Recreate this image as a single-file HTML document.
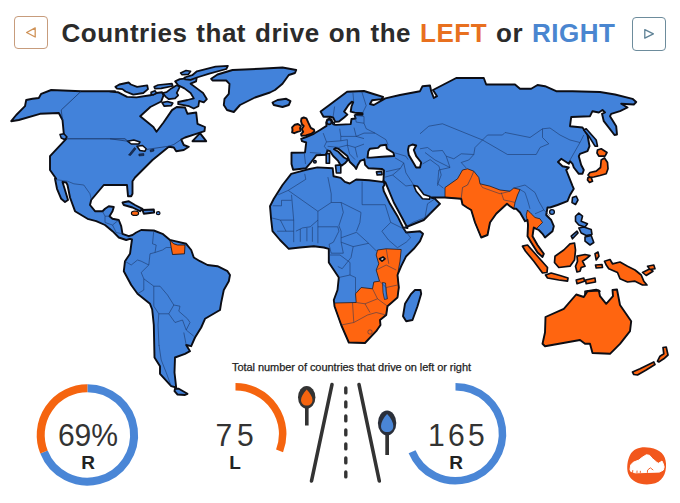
<!DOCTYPE html>
<html><head><meta charset="utf-8">
<style>
html,body{margin:0;padding:0;background:#fff;}
body{width:680px;height:503px;position:relative;overflow:hidden;font-family:"Liberation Sans",sans-serif;}
.btn{position:absolute;width:34px;height:33.5px;border-radius:4px;box-sizing:border-box;}
#bl{left:14.3px;top:15.6px;border:1.4px solid #c79c7c;}
#br{left:632px;top:17px;border:1.4px solid #6d8c9c;}
#title{position:absolute;left:61.5px;top:14.8px;font-weight:bold;font-size:26px;line-height:36px;color:#2b2b2b;white-space:nowrap;letter-spacing:0.5px;word-spacing:1.3px;}
#title .l{color:#e8701f;} #title .r{color:#4a86d0;}
#sub{position:absolute;left:232px;top:360px;font-size:11px;line-height:14px;color:#222;white-space:nowrap;letter-spacing:-0.06px;-webkit-text-stroke:0.25px #222;}
svg{position:absolute;left:0;top:0;}
.num{position:absolute;font-size:32px;color:#333;line-height:34px;text-align:center;transform:scaleX(0.94);transform-origin:50% 50%;}
.lab{position:absolute;font-size:19px;font-weight:bold;color:#222;line-height:20px;text-align:center;}
</style></head><body>
<div class="btn" id="bl"></div><div class="btn" id="br"></div>
<div id="title">Countries that drive on the <span class="l">LEFT</span> or <span class="r">RIGHT</span></div>
<div id="sub">Total number of countries that drive on left or right</div>
<svg id="map" width="680" height="503" viewBox="0 0 680 503">
<!--MAPSTART-->
<path d="M11.2,121.2 L16.2,115.0 L25.0,106.2 L26.2,100.0 L32.5,98.8 L38.8,98.0 L41.2,93.8 L51.2,90.0 L81.2,91.2 L115.0,91.2 L110.0,91.5 L117.8,92.2 L127.1,96.9 L136.4,97.4 L150.3,95.3 L156.5,93.0 L162.0,92.2 L163.5,95.3 L161.2,101.5 L150.3,107.0 L140.2,116.3 L153.4,127.1 L156.5,131.8 L163.5,122.5 L172.0,110.1 L176.7,107.0 L185.0,107.5 L187.5,113.8 L196.2,112.5 L197.5,123.8 L205.0,127.0 L204.5,131.2 L196.2,133.8 L185.0,137.5 L181.2,139.5 L183.8,145.0 L188.8,146.8 L183.8,150.0 L176.2,151.2 L173.8,147.5 L168.8,146.8 L152.5,160.0 L135.0,177.5 L132.5,181.2 L132.5,193.8 L131.2,196.2 L128.0,196.2 L127.0,185.0 L103.8,185.0 L91.2,200.0 L90.0,205.0 L95.0,211.2 L102.5,211.2 L105.0,208.8 L108.8,206.2 L113.8,207.0 L112.5,211.2 L109.5,216.2 L112.5,218.8 L118.8,220.0 L121.2,226.2 L122.5,233.8 L128.8,236.2 L132.5,235.0 L136.2,232.5 L141.2,230.0 L153.8,230.5 L162.5,233.8 L170.0,240.0 L175.0,241.2 L186.2,243.8 L191.2,250.0 L193.8,257.5 L200.0,261.2 L207.5,265.0 L217.5,266.2 L227.5,271.2 L230.0,275.0 L228.8,281.2 L223.8,290.0 L221.2,302.5 L220.0,310.0 L205.0,318.8 L201.2,327.5 L195.0,337.5 L191.2,346.2 L186.2,345.0 L190.0,351.2 L185.0,353.8 L175.0,357.5 L174.5,372.5 L176.2,387.5 L171.2,386.2 L160.0,373.8 L160.0,366.2 L154.5,357.5 L153.8,325.0 L152.2,309.5 L150.0,303.8 L137.5,293.8 L131.2,285.0 L123.8,271.2 L125.0,261.2 L130.0,253.8 L131.2,245.0 L132.0,239.5 L130.0,238.8 L126.2,240.0 L118.8,237.5 L112.5,231.2 L105.0,225.0 L96.2,221.2 L87.5,218.8 L75.0,211.2 L70.0,197.5 L67.5,185.0 L66.2,182.5 L62.5,182.0 L65.0,190.0 L68.0,200.0 L65.0,202.0 L61.2,198.8 L57.0,188.8 L55.0,178.8 L56.2,178.8 L50.0,170.0 L50.0,156.2 L66.2,138.8 L63.8,133.8 L62.5,120.0 L58.8,113.0 L40.0,113.8 L18.8,120.0Z" fill="#4282da" stroke="#0c0d14" stroke-width="1.9" stroke-linejoin="round"/>
<path d="M175.0,388.8 L178.8,388.8 L187.5,393.8 L185.0,395.0 L177.5,394.5 L174.5,391.2Z" fill="#4282da" stroke="#0c0d14" stroke-width="1.9" stroke-linejoin="round"/>
<path d="M60.0,134.5 L63.8,133.8 L67.0,137.0 L64.5,139.5 L61.2,138.0Z" fill="#4282da" stroke="#0c0d14" stroke-width="1.5" stroke-linejoin="round"/>
<path d="M127.5,141.2 L133.8,140.0 L140.0,142.0 L138.8,144.0 L131.2,144.0Z" fill="#fff" stroke="#0c0d14" stroke-width="1.5" stroke-linejoin="round"/>
<path d="M137.0,146.2 L142.5,145.5 L146.2,148.8 L145.0,151.2 L140.0,150.5Z" fill="#fff" stroke="#0c0d14" stroke-width="1.5" stroke-linejoin="round"/>
<path d="M134.5,147.5 L136.0,148.8 L130.5,155.5 L128.5,155.0Z" fill="#16305e" stroke="#0c0d14" stroke-width="0.5" stroke-linejoin="round"/>
<path d="M138.8,154.0 L143.8,153.5 L144.0,155.5 L139.0,156.0Z" fill="#16305e" stroke="#0c0d14" stroke-width="0.5" stroke-linejoin="round"/>
<path d="M150.0,150.0 L153.8,149.0 L154.0,151.0 L150.5,152.0Z" fill="#16305e" stroke="#0c0d14" stroke-width="0.5" stroke-linejoin="round"/>
<path d="M192.5,141.2 L200.0,133.2 L206.2,141.2Z" fill="#4282da" stroke="#0c0d14" stroke-width="1.9" stroke-linejoin="round"/>
<path d="M115.4,86.8 L119.3,84.5 L128.6,82.5 L130.9,84.5 L137.1,86.8 L147.2,85.3 L148.0,89.1 L143.3,93.0 L133.3,94.6 L125.5,91.5 L122.4,89.1 L117.0,88.7Z" fill="#4282da" stroke="#0c0d14" stroke-width="1.8" stroke-linejoin="round"/>
<path d="M151.1,92.2 L155.0,90.7 L156.5,93.0 L153.4,94.9 L151.1,94.3Z" fill="#4282da" stroke="#0c0d14" stroke-width="1.6" stroke-linejoin="round"/>
<path d="M154.2,86.8 L158.1,85.0 L172.0,83.7 L172.8,86.0 L161.2,88.4 L155.0,88.7Z" fill="#4282da" stroke="#0c0d14" stroke-width="1.7" stroke-linejoin="round"/>
<path d="M162.7,93.0 L166.6,92.2 L171.3,88.4 L176.7,85.3 L179.8,86.8 L176.7,93.0 L178.2,95.3 L175.1,98.4 L168.9,99.2 L165.8,96.9Z" fill="#4282da" stroke="#0c0d14" stroke-width="1.7" stroke-linejoin="round"/>
<path d="M162.0,102.6 L167.4,101.5 L172.8,103.1 L171.3,105.7 L164.3,106.2Z" fill="#4282da" stroke="#0c0d14" stroke-width="1.7" stroke-linejoin="round"/>
<path d="M175.1,81.4 L179.8,79.1 L187.5,78.3 L196.9,76.7 L196.1,81.4 L190.6,83.7 L196.9,88.4 L203.1,93.0 L206.9,99.2 L203.8,102.3 L199.2,100.8 L198.4,106.2 L193.8,108.5 L189.1,106.2 L178.2,104.2 L178.2,102.0 L187.5,100.0 L193.8,98.4 L190.6,93.0 L184.4,88.4 L178.2,85.3Z" fill="#4282da" stroke="#0c0d14" stroke-width="1.8" stroke-linejoin="round"/>
<path d="M180.6,72.9 L186.0,70.5 L190.6,71.3 L188.3,74.4 L182.1,74.7Z" fill="#4282da" stroke="#0c0d14" stroke-width="1.6" stroke-linejoin="round"/>
<path d="M184.4,77.5 L192.2,75.2 L196.9,71.3 L215.5,66.7 L227.9,65.9 L226.3,69.0 L209.3,73.6 L196.9,77.5 L190.6,79.8 L185.2,79.4Z" fill="#4282da" stroke="#0c0d14" stroke-width="1.8" stroke-linejoin="round"/>
<path d="M211.2,78.8 L217.5,74.5 L232.5,70.0 L260.0,68.8 L282.5,67.5 L296.2,70.0 L295.0,73.0 L288.8,75.0 L282.5,83.8 L275.0,90.0 L270.0,92.5 L255.0,97.5 L240.0,105.0 L233.8,112.0 L227.0,110.0 L223.8,105.0 L224.5,98.8 L228.8,93.8 L229.5,83.8 L226.2,80.5 L212.5,80.5Z" fill="#4282da" stroke="#0c0d14" stroke-width="1.9" stroke-linejoin="round"/>
<path d="M272.5,102.5 L277.5,100.0 L286.2,98.8 L290.5,101.2 L288.8,105.0 L282.5,107.0 L273.8,105.0Z" fill="#4282da" stroke="#0c0d14" stroke-width="1.9" stroke-linejoin="round"/>
<path d="M122.5,202.5 L128.8,201.2 L135.0,205.0 L142.5,208.8 L140.0,211.2 L132.5,207.5 L123.8,205.0Z" fill="#4282da" stroke="#0c0d14" stroke-width="1.9" stroke-linejoin="round"/>
<path d="M142.5,210.0 L153.8,209.5 L154.2,212.5 L143.8,213.8Z" fill="#4282da" stroke="#0c0d14" stroke-width="1.9" stroke-linejoin="round"/>
<ellipse cx="135.0" cy="213.2" rx="3.6" ry="2.2" fill="#ff6510" stroke="#0c0d14" stroke-width="1.2"/>
<ellipse cx="158.2" cy="213.2" rx="1.8" ry="1.5" fill="#4282da" stroke="#0c0d14" stroke-width="1.2"/>
<path d="M170.0,240.5 L173.8,243.8 L177.5,245.0 L185.0,245.0 L184.5,253.8 L172.5,254.5 L171.2,247.5Z" fill="#ff6510" stroke="#0c0d14" stroke-width="0.8" stroke-linejoin="round"/>
<path d="M320.6,111.6 L329.4,105.0 L347.1,91.8 L364.0,91.0 L373.5,94.0 L383.1,96.9 L381.6,99.1 L372.1,100.3 L370.0,104.0 L373.8,105.0 L385.3,98.4 L400.0,95.0 L420.0,91.2 L422.5,86.2 L430.0,85.5 L431.2,91.2 L433.8,98.0 L437.0,96.2 L433.0,90.0 L456.2,78.0 L483.8,78.0 L486.2,84.5 L515.0,84.5 L520.0,88.8 L531.2,88.8 L537.5,85.0 L545.0,86.2 L556.2,91.2 L572.5,91.2 L600.0,92.0 L615.0,94.5 L632.5,98.8 L636.2,102.0 L633.8,104.5 L621.2,103.8 L627.5,107.5 L620.0,111.2 L611.2,113.8 L610.0,116.2 L616.2,126.2 L617.0,134.5 L614.5,135.0 L603.8,121.2 L602.0,113.8 L605.0,112.5 L602.5,110.0 L598.8,112.5 L592.5,111.2 L590.0,116.2 L571.2,117.0 L570.0,126.2 L582.5,127.5 L587.5,135.0 L589.5,146.2 L587.5,151.2 L580.0,153.8 L578.8,156.2 L581.2,165.0 L583.8,170.0 L582.5,173.8 L578.8,173.8 L573.8,167.5 L572.5,163.8 L570.0,161.2 L568.8,163.8 L565.0,161.2 L561.2,158.8 L558.0,162.0 L562.5,166.2 L568.8,167.5 L566.2,170.0 L572.5,185.8 L573.8,188.8 L570.0,195.0 L567.5,201.2 L557.5,205.0 L550.0,207.5 L547.5,207.5 L546.2,215.0 L551.2,220.0 L553.8,226.2 L552.5,231.2 L545.0,237.5 L542.5,233.8 L538.8,230.0 L536.2,228.8 L533.8,227.5 L532.5,236.2 L537.5,245.0 L543.8,253.8 L542.5,257.0 L537.5,252.5 L531.2,242.5 L527.5,236.2 L528.0,225.0 L527.5,220.0 L525.0,221.2 L520.0,212.5 L516.2,208.8 L513.8,208.8 L510.0,206.2 L507.0,203.8 L496.2,213.8 L490.0,222.5 L487.5,235.0 L481.2,237.5 L475.0,222.5 L471.2,210.0 L467.0,207.5 L462.5,204.5 L461.2,198.8 L445.0,197.5 L435.0,197.5 L431.2,197.5 L435.0,198.8 L440.0,203.8 L431.2,212.5 L423.8,220.0 L405.0,227.5 L407.5,228.0 L401.2,216.2 L393.8,202.5 L387.0,186.2 L385.5,182.5 L383.8,181.2 L383.4,181.9 L384.0,170.6 L382.1,169.0 L368.3,168.2 L365.1,164.9 L364.3,159.3 L360.2,160.9 L357.8,164.9 L356.2,169.0 L354.6,166.5 L349.7,161.7 L347.3,156.0 L338.4,148.8 L335.5,147.9 L334.0,149.2 L338.4,151.8 L344.0,157.5 L348.1,159.6 L344.9,163.3 L341.6,165.6 L340.5,164.9 L338.1,160.9 L333.2,156.0 L330.0,151.2 L327.4,150.4 L326.2,154.7 L316.5,155.2 L310.9,162.5 L306.0,168.2 L293.1,169.8 L291.5,164.1 L291.5,152.8 L305.0,152.5 L306.2,142.5 L302.0,141.2 L301.2,138.8 L306.2,137.0 L313.8,133.8 L320.0,130.0 L326.5,125.9 L326.2,122.6 L327.2,119.7 L329.4,118.7 L331.6,119.7 L332.4,122.6 L334.1,124.6 L336.0,124.9 L350.7,124.1 L351.5,119.0 L355.6,118.5 L354.7,115.3 L355.9,114.7 L362.5,114.7 L362.5,113.2 L354.7,112.6 L350.7,111.6 L351.5,106.5 L353.2,102.1 L351.8,101.8 L348.5,105.0 L344.1,111.6 L347.4,114.6 L344.1,117.5 L339.0,121.5 L335.3,121.9 L333.1,117.5 L330.1,116.8 L323.5,116.8Z" fill="#4282da" stroke="#0c0d14" stroke-width="0" stroke-linejoin="round"/>
<path d="M291.2,173.8 L306.0,169.8 L317.4,167.4 L332.7,168.2 L333.5,176.2 L340.8,177.9 L344.9,181.9 L349.7,183.5 L356.2,179.5 L369.1,180.3 L382.1,181.9 L383.8,181.2 L384.5,185.0 L383.0,187.0 L383.8,191.2 L390.0,203.8 L397.5,216.2 L403.8,228.8 L406.2,232.5 L420.0,231.2 L423.0,233.8 L420.0,241.2 L413.8,248.8 L406.2,256.2 L401.2,266.2 L397.5,275.0 L398.8,287.5 L397.5,297.5 L387.5,306.2 L386.2,315.0 L380.0,320.0 L380.5,325.0 L376.2,331.2 L365.0,343.0 L348.8,342.5 L341.2,325.0 L334.5,306.2 L333.8,300.0 L337.5,290.0 L338.8,277.5 L333.8,270.0 L328.8,262.5 L328.8,248.8 L323.8,247.5 L313.8,246.2 L300.0,247.5 L288.8,248.8 L280.0,240.0 L272.5,231.2 L271.2,220.0 L270.0,206.2 L273.8,198.8 L282.5,185.0Z" fill="#4282da" stroke="#0c0d14" stroke-width="0" stroke-linejoin="round"/>
<path d="M445.0,187.5 L457.5,178.8 L462.5,170.0 L467.5,168.8 L473.8,171.2 L478.8,177.5 L480.0,183.8 L490.0,186.2 L500.0,190.0 L510.0,191.2 L513.8,188.0 L520.0,189.5 L517.5,195.0 L515.0,202.5 L513.8,208.8 L510.0,206.2 L507.0,203.8 L496.2,213.8 L490.0,222.5 L487.5,235.0 L481.2,237.5 L475.0,222.5 L471.2,210.0 L467.0,207.5 L462.5,204.5 L461.2,198.8 L445.0,197.5Z" fill="#ff6510" stroke="#0c0d14" stroke-width="0.7" stroke-linejoin="round"/>
<path d="M527.5,210.0 L531.2,213.8 L535.0,217.5 L540.0,218.8 L542.5,222.5 L536.2,228.8 L533.8,227.5 L532.5,236.2 L537.5,245.0 L543.8,253.8 L542.5,257.0 L537.5,252.5 L531.2,242.5 L527.5,236.2 L528.0,225.0 L526.2,215.0Z" fill="#ff6510" stroke="#0c0d14" stroke-width="0.7" stroke-linejoin="round"/>
<path d="M334.5,303.0 L356.2,302.5 L355.5,293.8 L361.2,287.5 L372.5,288.8 L373.8,282.0 L379.5,281.2 L376.2,270.0 L378.8,263.8 L376.2,255.0 L377.5,250.0 L386.2,248.8 L401.2,249.5 L400.0,261.2 L397.5,275.0 L398.8,287.5 L397.5,297.5 L387.5,306.2 L386.2,315.0 L380.0,320.0 L380.5,325.0 L376.2,331.2 L365.0,343.0 L348.8,342.5 L341.2,325.0 L334.5,306.2Z" fill="#ff6510" stroke="#0c0d14" stroke-width="0.7" stroke-linejoin="round"/>
<path d="M382.5,282.5 L385.5,283.0 L386.2,291.2 L387.5,298.8 L384.5,299.5 L383.0,292.5Z" fill="#4282da" stroke="#0c0d14" stroke-width="0.6" stroke-linejoin="round"/>
<path d="M379.5,258.8 L383.0,257.0 L385.0,258.8 L382.0,261.2Z" fill="#fff" stroke="#0c0d14" stroke-width="1.7" stroke-linejoin="round"/>
<path d="M320.6,111.6 L329.4,105.0 L347.1,91.8 L364.0,91.0 L373.5,94.0 L383.1,96.9 L381.6,99.1 L372.1,100.3 L370.0,104.0 L373.8,105.0 L385.3,98.4 L400.0,95.0 L420.0,91.2 L422.5,86.2 L430.0,85.5 L431.2,91.2 L433.8,98.0 L437.0,96.2 L433.0,90.0 L456.2,78.0 L483.8,78.0 L486.2,84.5 L515.0,84.5 L520.0,88.8 L531.2,88.8 L537.5,85.0 L545.0,86.2 L556.2,91.2 L572.5,91.2 L600.0,92.0 L615.0,94.5 L632.5,98.8 L636.2,102.0 L633.8,104.5 L621.2,103.8 L627.5,107.5 L620.0,111.2 L611.2,113.8 L610.0,116.2 L616.2,126.2 L617.0,134.5 L614.5,135.0 L603.8,121.2 L602.0,113.8 L605.0,112.5 L602.5,110.0 L598.8,112.5 L592.5,111.2 L590.0,116.2 L571.2,117.0 L570.0,126.2 L582.5,127.5 L587.5,135.0 L589.5,146.2 L587.5,151.2 L580.0,153.8 L578.8,156.2 L581.2,165.0 L583.8,170.0 L582.5,173.8 L578.8,173.8 L573.8,167.5 L572.5,163.8 L570.0,161.2 L568.8,163.8 L565.0,161.2 L561.2,158.8 L558.0,162.0 L562.5,166.2 L568.8,167.5 L566.2,170.0 L572.5,185.8 L573.8,188.8 L570.0,195.0 L567.5,201.2 L557.5,205.0 L550.0,207.5 L547.5,207.5 L546.2,215.0 L551.2,220.0 L553.8,226.2 L552.5,231.2 L545.0,237.5 L542.5,233.8 L538.8,230.0 L536.2,228.8 L533.8,227.5 L532.5,236.2 L537.5,245.0 L543.8,253.8 L542.5,257.0 L537.5,252.5 L531.2,242.5 L527.5,236.2 L528.0,225.0 L527.5,220.0 L525.0,221.2 L520.0,212.5 L516.2,208.8 L513.8,208.8 L510.0,206.2 L507.0,203.8 L496.2,213.8 L490.0,222.5 L487.5,235.0 L481.2,237.5 L475.0,222.5 L471.2,210.0 L467.0,207.5 L462.5,204.5 L461.2,198.8 L445.0,197.5 L435.0,197.5 L431.2,197.5 L435.0,198.8 L440.0,203.8 L431.2,212.5 L423.8,220.0 L405.0,227.5 L407.5,228.0 L401.2,216.2 L393.8,202.5 L387.0,186.2 L385.5,182.5 L383.8,181.2 L383.4,181.9 L384.0,170.6 L382.1,169.0 L368.3,168.2 L365.1,164.9 L364.3,159.3 L360.2,160.9 L357.8,164.9 L356.2,169.0 L354.6,166.5 L349.7,161.7 L347.3,156.0 L338.4,148.8 L335.5,147.9 L334.0,149.2 L338.4,151.8 L344.0,157.5 L348.1,159.6 L344.9,163.3 L341.6,165.6 L340.5,164.9 L338.1,160.9 L333.2,156.0 L330.0,151.2 L327.4,150.4 L326.2,154.7 L316.5,155.2 L310.9,162.5 L306.0,168.2 L293.1,169.8 L291.5,164.1 L291.5,152.8 L305.0,152.5 L306.2,142.5 L302.0,141.2 L301.2,138.8 L306.2,137.0 L313.8,133.8 L320.0,130.0 L326.5,125.9 L326.2,122.6 L327.2,119.7 L329.4,118.7 L331.6,119.7 L332.4,122.6 L334.1,124.6 L336.0,124.9 L350.7,124.1 L351.5,119.0 L355.6,118.5 L354.7,115.3 L355.9,114.7 L362.5,114.7 L362.5,113.2 L354.7,112.6 L350.7,111.6 L351.5,106.5 L353.2,102.1 L351.8,101.8 L348.5,105.0 L344.1,111.6 L347.4,114.6 L344.1,117.5 L339.0,121.5 L335.3,121.9 L333.1,117.5 L330.1,116.8 L323.5,116.8Z" fill="none" stroke="#0c0d14" stroke-width="1.9" stroke-linejoin="round"/>
<path d="M291.2,173.8 L306.0,169.8 L317.4,167.4 L332.7,168.2 L333.5,176.2 L340.8,177.9 L344.9,181.9 L349.7,183.5 L356.2,179.5 L369.1,180.3 L382.1,181.9 L383.8,181.2 L384.5,185.0 L383.0,187.0 L383.8,191.2 L390.0,203.8 L397.5,216.2 L403.8,228.8 L406.2,232.5 L420.0,231.2 L423.0,233.8 L420.0,241.2 L413.8,248.8 L406.2,256.2 L401.2,266.2 L397.5,275.0 L398.8,287.5 L397.5,297.5 L387.5,306.2 L386.2,315.0 L380.0,320.0 L380.5,325.0 L376.2,331.2 L365.0,343.0 L348.8,342.5 L341.2,325.0 L334.5,306.2 L333.8,300.0 L337.5,290.0 L338.8,277.5 L333.8,270.0 L328.8,262.5 L328.8,248.8 L323.8,247.5 L313.8,246.2 L300.0,247.5 L288.8,248.8 L280.0,240.0 L272.5,231.2 L271.2,220.0 L270.0,206.2 L273.8,198.8 L282.5,185.0Z" fill="none" stroke="#0c0d14" stroke-width="1.9" stroke-linejoin="round"/>
<circle cx="329.1" cy="122.1" r="2.3" fill="#4282da" stroke="#0c0d14" stroke-width="1.6"/>
<circle cx="333.5" cy="123.2" r="1.0" fill="#4282da" stroke="#0c0d14" stroke-width="1.4"/>
<path d="M367.5,157.6 L368.3,151.2 L369.9,148.8 L378.0,147.9 L380.4,145.5 L386.1,144.7 L386.9,148.8 L393.4,152.8 L394.2,156.0 L382.1,156.8 L370.7,157.6Z" fill="#fff" stroke="#0c0d14" stroke-width="1.9" stroke-linejoin="round"/>
<path d="M408.8,146.2 L412.5,144.5 L416.2,145.5 L413.8,150.0 L416.2,156.2 L421.2,162.5 L420.0,167.5 L416.2,167.5 L412.5,161.2 L408.8,155.0 L408.0,150.0Z" fill="#fff" stroke="#0c0d14" stroke-width="1.9" stroke-linejoin="round"/>
<path d="M413.8,185.5 L417.5,186.2 L423.8,194.5 L430.0,196.5 L429.5,199.2 L422.5,198.8 L416.2,191.2Z" fill="#fff" stroke="#0c0d14" stroke-width="1.6" stroke-linejoin="round"/>
<path d="M326.2,153.6 L329.5,153.6 L329.5,163.3 L326.2,163.3Z" fill="#4282da" stroke="#0c0d14" stroke-width="1.6" stroke-linejoin="round"/>
<path d="M335.5,165.4 L340.8,164.9 L340.8,173.0 L336.4,173.0Z" fill="#4282da" stroke="#0c0d14" stroke-width="1.6" stroke-linejoin="round"/>
<path d="M376.4,171.9 L381.7,171.4 L382.1,174.6 L377.2,175.0Z" fill="#4282da" stroke="#0c0d14" stroke-width="1.6" stroke-linejoin="round"/>
<circle cx="314.9" cy="161.7" r="1.3" fill="#4282da" stroke="#0c0d14" stroke-width="1.5"/>
<path d="M301.5,118.4 L303.7,117.5 L306.4,118.4 L308.2,122.4 L310.8,127.8 L314.0,129.6 L314.4,131.4 L311.7,133.6 L305.9,135.4 L301.5,135.8 L301.0,134.1 L303.2,131.8 L301.9,129.1 L303.7,126.0 L301.9,124.2 L301.0,121.1Z" fill="#ff6510" stroke="#0c0d14" stroke-width="1.9" stroke-linejoin="round"/>
<path d="M292.1,127.4 L294.8,124.7 L297.9,124.0 L301.0,126.0 L300.1,128.2 L300.6,130.9 L297.4,131.8 L294.3,133.2 L292.1,132.3 L292.5,130.0Z" fill="#ff6510" stroke="#0c0d14" stroke-width="1.9" stroke-linejoin="round"/>
<path d="M583.8,130.0 L586.2,128.8 L596.2,140.0 L597.5,146.2 L595.0,146.2 L588.8,136.2Z" fill="#4282da" stroke="#0c0d14" stroke-width="1.6" stroke-linejoin="round"/>
<path d="M597.5,150.0 L601.2,148.8 L607.0,152.5 L605.0,156.2 L598.8,156.2 L597.0,153.0Z" fill="#ff6510" stroke="#0c0d14" stroke-width="1.7" stroke-linejoin="round"/>
<path d="M601.2,160.0 L604.5,158.0 L607.5,162.5 L608.0,168.8 L606.2,173.8 L600.0,175.5 L593.8,177.0 L590.0,177.5 L588.0,175.0 L590.0,172.5 L596.2,171.2 L600.5,167.5Z" fill="#ff6510" stroke="#0c0d14" stroke-width="1.7" stroke-linejoin="round"/>
<path d="M588.0,177.5 L591.2,177.5 L592.5,181.2 L589.5,182.5 L587.5,180.0Z" fill="#ff6510" stroke="#0c0d14" stroke-width="1.7" stroke-linejoin="round"/>
<path d="M572.5,197.5 L576.2,196.2 L578.0,200.0 L575.5,204.5 L572.0,202.5Z" fill="#4282da" stroke="#0c0d14" stroke-width="1.6" stroke-linejoin="round"/>
<circle cx="552.0" cy="212.0" r="2.4" fill="#4282da" stroke="#0c0d14" stroke-width="1.3"/>
<path d="M575.5,216.2 L578.8,213.0 L582.5,216.2 L581.2,221.2 L587.5,223.8 L585.0,227.0 L578.8,225.0 L575.5,221.2Z" fill="#4282da" stroke="#0c0d14" stroke-width="1.6" stroke-linejoin="round"/>
<path d="M578.8,228.0 L583.8,227.0 L591.2,229.5 L592.0,234.5 L586.2,235.5 L581.2,233.0Z" fill="#4282da" stroke="#0c0d14" stroke-width="1.6" stroke-linejoin="round"/>
<path d="M585.0,237.0 L591.2,235.5 L593.8,242.5 L590.0,245.0 L585.0,241.2Z" fill="#4282da" stroke="#0c0d14" stroke-width="1.6" stroke-linejoin="round"/>
<path d="M571.2,236.2 L577.0,231.2 L578.0,233.0 L572.5,238.8Z" fill="#4282da" stroke="#0c0d14" stroke-width="1.6" stroke-linejoin="round"/>
<path d="M522.5,246.2 L527.5,245.0 L537.5,256.2 L547.5,267.5 L547.0,272.5 L542.5,273.0 L533.8,261.2 L525.5,251.2Z" fill="#ff6510" stroke="#0c0d14" stroke-width="1.7" stroke-linejoin="round"/>
<path d="M545.5,275.0 L551.2,273.0 L560.0,275.5 L568.0,278.0 L567.5,281.2 L558.8,280.0 L547.5,278.0Z" fill="#ff6510" stroke="#0c0d14" stroke-width="1.7" stroke-linejoin="round"/>
<path d="M555.0,256.2 L563.8,250.0 L570.0,243.8 L574.5,243.0 L575.5,250.0 L574.5,260.0 L570.0,266.2 L558.8,267.5 L554.5,262.5Z" fill="#ff6510" stroke="#0c0d14" stroke-width="1.7" stroke-linejoin="round"/>
<path d="M577.0,256.2 L585.0,254.5 L590.0,255.5 L586.2,258.8 L582.5,261.2 L585.0,266.2 L581.2,267.5 L580.0,271.2 L577.0,272.0 L575.5,266.2 L577.5,261.2Z" fill="#ff6510" stroke="#0c0d14" stroke-width="1.7" stroke-linejoin="round"/>
<path d="M595.0,253.8 L598.0,252.0 L599.0,256.2 L596.2,260.0Z" fill="#ff6510" stroke="#0c0d14" stroke-width="1.6" stroke-linejoin="round"/>
<path d="M595.5,265.0 L602.0,264.5 L602.5,267.5 L596.2,268.0Z" fill="#ff6510" stroke="#0c0d14" stroke-width="1.6" stroke-linejoin="round"/>
<path d="M576.2,280.0 L583.8,278.0 L584.5,281.2 L577.0,283.8Z" fill="#ff6510" stroke="#0c0d14" stroke-width="1.6" stroke-linejoin="round"/>
<path d="M585.5,280.0 L595.0,278.0 L595.5,282.0 L586.2,283.8Z" fill="#ff6510" stroke="#0c0d14" stroke-width="1.6" stroke-linejoin="round"/>
<path d="M604.5,261.2 L610.0,259.5 L612.5,263.8 L620.0,262.0 L627.5,266.2 L635.0,270.0 L641.2,275.0 L643.8,281.2 L647.0,285.0 L642.5,285.0 L635.0,281.2 L627.5,282.0 L620.0,278.8 L617.5,272.5 L608.8,268.8 L606.2,265.0Z" fill="#ff6510" stroke="#0c0d14" stroke-width="1.7" stroke-linejoin="round"/>
<path d="M642.5,272.5 L650.0,268.8 L653.0,271.2 L646.2,275.5Z" fill="#ff6510" stroke="#0c0d14" stroke-width="1.6" stroke-linejoin="round"/>
<path d="M647.5,266.2 L653.8,265.0 L655.0,268.8 L650.0,269.5Z" fill="#ff6510" stroke="#0c0d14" stroke-width="1.6" stroke-linejoin="round"/>
<path d="M585.0,291.2 L596.2,289.5 L600.0,291.2 L596.2,295.0 L585.0,295.0Z" fill="#ff6510" stroke="#0c0d14" stroke-width="1.6" stroke-linejoin="round"/>
<path d="M545.5,317.0 L563.8,308.8 L576.2,294.5 L583.8,297.0 L587.5,291.2 L598.8,290.5 L600.0,296.2 L606.2,303.8 L613.0,296.2 L612.5,290.0 L617.0,289.5 L620.0,305.0 L631.2,321.2 L630.0,331.2 L620.0,343.8 L610.0,353.8 L592.5,353.0 L590.0,343.8 L585.0,343.8 L580.0,340.0 L545.0,346.2 L542.5,343.8 L545.0,332.5Z" fill="#ff6510" stroke="#0c0d14" stroke-width="1.9" stroke-linejoin="round"/>
<path d="M657.5,361.2 L660.0,356.2 L663.8,353.8 L663.0,347.5 L666.2,347.0 L668.0,355.0 L663.8,358.8 L658.8,362.0Z" fill="#ff6510" stroke="#0c0d14" stroke-width="1.7" stroke-linejoin="round"/>
<path d="M632.5,372.0 L640.0,368.8 L653.8,362.0 L655.0,364.5 L646.2,370.0 L637.5,375.0 L633.8,374.5Z" fill="#ff6510" stroke="#0c0d14" stroke-width="1.7" stroke-linejoin="round"/>
<path d="M405.0,303.8 L411.2,293.8 L415.0,290.0 L420.5,290.0 L421.2,293.8 L417.5,306.2 L412.5,320.0 L406.2,321.2 L403.0,316.2Z" fill="#4282da" stroke="#0c0d14" stroke-width="1.9" stroke-linejoin="round"/>
<path d="M81.2,91.2 L61.2,110.0 L62.5,120.0" fill="none" stroke="#17315f" stroke-width="0.7" stroke-linejoin="round"/>
<path d="M66.2,138.8 L125.0,138.8 L128.8,142.0" fill="none" stroke="#17315f" stroke-width="0.9" stroke-linejoin="round"/>
<path d="M110.0,138.8 L127.5,141.2" fill="none" stroke="#17315f" stroke-width="0.7" stroke-linejoin="round"/>
<path d="M146.2,149.5 L168.8,146.2 L173.8,144.5 L181.2,139.5" fill="none" stroke="#17315f" stroke-width="0.7" stroke-linejoin="round"/>
<path d="M55.0,179.5 L67.5,181.2 L73.8,183.8 L83.8,185.0 L90.0,193.8 L91.2,199.5" fill="none" stroke="#17315f" stroke-width="0.55" stroke-linejoin="round"/>
<path d="M102.5,211.2 L105.0,216.2 L109.5,216.2" fill="none" stroke="#17315f" stroke-width="0.55" stroke-linejoin="round"/>
<path d="M105.0,216.2 L105.0,222.5 L112.5,225.0 L118.8,220.0" fill="none" stroke="#17315f" stroke-width="0.55" stroke-linejoin="round"/>
<path d="M112.5,225.0 L116.2,232.5 L122.5,233.8" fill="none" stroke="#17315f" stroke-width="0.55" stroke-linejoin="round"/>
<path d="M153.8,230.5 L152.5,243.8 L156.2,245.0 L155.0,252.5 L150.0,253.8 L148.8,265.0 L141.2,272.5 L143.8,278.8 L153.8,286.2 L160.0,286.2 L167.5,295.0 L173.8,305.0 L180.0,306.2 L178.8,311.2 L187.5,318.8 L190.0,322.5 L186.2,330.0 L193.8,336.2" fill="none" stroke="#17315f" stroke-width="0.55" stroke-linejoin="round"/>
<path d="M155.0,252.5 L162.5,250.0 L166.2,247.5 L171.2,247.5" fill="none" stroke="#17315f" stroke-width="0.55" stroke-linejoin="round"/>
<path d="M125.0,261.2 L131.2,265.0 L137.5,260.0 L141.2,261.2 L148.8,265.0" fill="none" stroke="#17315f" stroke-width="0.55" stroke-linejoin="round"/>
<path d="M137.5,293.8 L143.8,290.0 L143.8,278.8" fill="none" stroke="#17315f" stroke-width="0.55" stroke-linejoin="round"/>
<path d="M153.8,286.2 L153.8,306.2 L158.8,313.8 L168.8,313.8 L173.8,305.0" fill="none" stroke="#17315f" stroke-width="0.55" stroke-linejoin="round"/>
<path d="M158.8,313.8 L158.0,325.0 L159.0,345.8" fill="none" stroke="#17315f" stroke-width="0.55" stroke-linejoin="round"/>
<path d="M159.0,345.0 L161.2,360.0 L166.2,372.5 L171.2,386.2" fill="none" stroke="#17315f" stroke-width="0.55" stroke-linejoin="round"/>
<path d="M168.8,313.8 L175.0,322.5 L182.5,320.0 L186.2,330.0" fill="none" stroke="#17315f" stroke-width="0.55" stroke-linejoin="round"/>
<path d="M183.8,332.5 L186.2,345.0" fill="none" stroke="#17315f" stroke-width="0.55" stroke-linejoin="round"/>
<path d="M185.0,245.0 L186.2,243.8" fill="none" stroke="#17315f" stroke-width="0.55" stroke-linejoin="round"/>
<path d="M304.7,173.8 L305.8,179.3 L288.2,190.4 L317.9,211.3 L331.2,202.5 L341.1,202.5 L361.0,212.4 L359.9,222.4 L356.5,231.2" fill="none" stroke="#17315f" stroke-width="0.55" stroke-linejoin="round"/>
<path d="M288.2,190.4 L278.2,194.8" fill="none" stroke="#17315f" stroke-width="0.55" stroke-linejoin="round"/>
<path d="M272.7,205.8 L281.5,205.8 L281.5,200.3 L291.5,200.3" fill="none" stroke="#17315f" stroke-width="0.55" stroke-linejoin="round"/>
<path d="M291.5,194.8 L293.7,220.1 L280.4,220.1" fill="none" stroke="#17315f" stroke-width="0.55" stroke-linejoin="round"/>
<path d="M327.9,177.1 L331.2,193.7 L331.2,202.5" fill="none" stroke="#17315f" stroke-width="0.55" stroke-linejoin="round"/>
<path d="M362.1,181.5 L362.1,204.7 L385.2,204.7 L390.7,222.4 L381.9,231.2 L388.5,240.0 L397.4,247.7" fill="none" stroke="#17315f" stroke-width="0.55" stroke-linejoin="round"/>
<path d="M341.1,202.5 L343.3,212.4 L338.9,225.7 L341.1,231.2 L341.1,242.2" fill="none" stroke="#17315f" stroke-width="0.55" stroke-linejoin="round"/>
<path d="M317.9,211.3 L317.9,220.1 L310.2,226.8 L302.5,227.9 L295.9,231.2" fill="none" stroke="#17315f" stroke-width="0.55" stroke-linejoin="round"/>
<path d="M317.9,226.8 L337.8,226.8 L338.9,231.2 L333.4,242.2 L329.0,244.4 L331.2,253.2 L343.3,253.2 L341.1,242.2" fill="none" stroke="#17315f" stroke-width="0.55" stroke-linejoin="round"/>
<path d="M341.1,237.8 L356.5,232.3 L368.7,243.3 L353.2,246.6 L341.1,242.2" fill="none" stroke="#17315f" stroke-width="0.55" stroke-linejoin="round"/>
<path d="M390.7,222.4 L404.0,229.0 L410.6,237.8 L406.2,242.2 L397.4,247.7" fill="none" stroke="#17315f" stroke-width="0.55" stroke-linejoin="round"/>
<path d="M353.2,246.6 L351.0,257.6 L342.2,268.7 L337.8,266.5" fill="none" stroke="#17315f" stroke-width="0.55" stroke-linejoin="round"/>
<path d="M368.7,243.3 L376.4,251.0" fill="none" stroke="#17315f" stroke-width="0.55" stroke-linejoin="round"/>
<path d="M293.7,220.1 L293.7,242.2" fill="none" stroke="#17315f" stroke-width="0.55" stroke-linejoin="round"/>
<path d="M300.3,229.0 L300.3,241.8" fill="none" stroke="#17315f" stroke-width="0.55" stroke-linejoin="round"/>
<path d="M306.9,227.9 L306.9,241.3" fill="none" stroke="#17315f" stroke-width="0.55" stroke-linejoin="round"/>
<path d="M312.4,226.8 L312.4,241.8" fill="none" stroke="#17315f" stroke-width="0.55" stroke-linejoin="round"/>
<path d="M317.9,220.1 L317.9,243.3" fill="none" stroke="#17315f" stroke-width="0.55" stroke-linejoin="round"/>
<path d="M271.6,217.9 L280.4,220.1 L286.0,231.2 L293.7,231.2" fill="none" stroke="#17315f" stroke-width="0.55" stroke-linejoin="round"/>
<path d="M277.1,231.2 L286.0,231.2" fill="none" stroke="#17315f" stroke-width="0.55" stroke-linejoin="round"/>
<path d="M328.8,255.0 L340.0,255.0 L350.0,262.5 L350.0,275.0 L355.5,277.5 L355.5,293.8" fill="none" stroke="#17315f" stroke-width="0.55" stroke-linejoin="round"/>
<path d="M338.8,277.5 L350.0,275.0" fill="none" stroke="#17315f" stroke-width="0.55" stroke-linejoin="round"/>
<path d="M352.5,302.5 L353.8,322.5 L367.5,315.0 L376.2,312.5 L386.2,315.0" fill="none" stroke="#17315f" stroke-width="0.5" stroke-linejoin="round"/>
<path d="M341.2,325.0 L353.8,322.5" fill="none" stroke="#17315f" stroke-width="0.5" stroke-linejoin="round"/>
<path d="M365.0,303.8 L370.0,312.5" fill="none" stroke="#17315f" stroke-width="0.5" stroke-linejoin="round"/>
<path d="M372.5,288.8 L377.5,298.8 L365.0,303.8 L356.2,302.5" fill="none" stroke="#17315f" stroke-width="0.5" stroke-linejoin="round"/>
<path d="M377.5,298.8 L387.5,306.2" fill="none" stroke="#17315f" stroke-width="0.5" stroke-linejoin="round"/>
<path d="M386.2,287.5 L397.5,285.0" fill="none" stroke="#17315f" stroke-width="0.5" stroke-linejoin="round"/>
<path d="M379.5,281.2 L386.2,287.5 L386.2,298.8" fill="none" stroke="#17315f" stroke-width="0.5" stroke-linejoin="round"/>
<path d="M376.2,270.0 L386.2,265.0 L396.2,270.0" fill="none" stroke="#17315f" stroke-width="0.5" stroke-linejoin="round"/>
<path d="M386.2,248.8 L388.8,263.8" fill="none" stroke="#17315f" stroke-width="0.5" stroke-linejoin="round"/>
<circle cx="370.0" cy="332.0" r="2.2" fill="none" stroke="#17315f" stroke-width="0.5"/>
<path d="M323.2,133.1 L326.5,141.9 L324.3,146.3 L327.6,150.7" fill="none" stroke="#17315f" stroke-width="0.55" stroke-linejoin="round"/>
<path d="M339.7,128.7 L340.8,136.4 L356.2,136.4 L364.0,138.6" fill="none" stroke="#17315f" stroke-width="0.55" stroke-linejoin="round"/>
<path d="M354.0,127.6 L356.2,136.4 L364.0,133.1 L375.0,133.1 L386.0,139.7 L388.2,145.2" fill="none" stroke="#17315f" stroke-width="0.55" stroke-linejoin="round"/>
<path d="M326.5,141.9 L340.8,140.8 L347.4,139.7" fill="none" stroke="#17315f" stroke-width="0.55" stroke-linejoin="round"/>
<path d="M327.6,146.3 L338.6,147.4 L347.4,145.2 L355.1,147.4 L364.0,144.1" fill="none" stroke="#17315f" stroke-width="0.55" stroke-linejoin="round"/>
<path d="M347.4,145.2 L349.6,154.0 L355.1,159.6" fill="none" stroke="#17315f" stroke-width="0.55" stroke-linejoin="round"/>
<path d="M355.1,147.4 L357.4,157.4" fill="none" stroke="#17315f" stroke-width="0.55" stroke-linejoin="round"/>
<path d="M340.8,136.4 L340.8,140.8" fill="none" stroke="#17315f" stroke-width="0.55" stroke-linejoin="round"/>
<path d="M347.4,139.7 L347.4,145.2" fill="none" stroke="#17315f" stroke-width="0.55" stroke-linejoin="round"/>
<path d="M355.1,115.4 L356.2,122.1 L364.0,123.2 L366.2,128.7 L375.0,133.1" fill="none" stroke="#17315f" stroke-width="0.55" stroke-linejoin="round"/>
<path d="M355.1,115.4 L364.0,116.5 L364.0,123.2" fill="none" stroke="#17315f" stroke-width="0.55" stroke-linejoin="round"/>
<path d="M334.6,106.5 L333.1,116.8" fill="none" stroke="#17315f" stroke-width="0.55" stroke-linejoin="round"/>
<path d="M352.9,92.5 L353.7,101.3" fill="none" stroke="#17315f" stroke-width="0.55" stroke-linejoin="round"/>
<path d="M361.8,91.8 L366.2,105.7 L362.5,113.1" fill="none" stroke="#17315f" stroke-width="0.55" stroke-linejoin="round"/>
<path d="M309.9,152.5 L321.0,153.4" fill="none" stroke="#17315f" stroke-width="0.55" stroke-linejoin="round"/>
<path d="M304.4,154.0 L305.5,164.0" fill="none" stroke="#17315f" stroke-width="0.55" stroke-linejoin="round"/>
<path d="M394.9,157.8 L403.7,162.9 L400.4,168.4 L386.0,171.7" fill="none" stroke="#17315f" stroke-width="0.55" stroke-linejoin="round"/>
<path d="M394.9,152.9 L405.9,156.2 L408.1,159.6" fill="none" stroke="#17315f" stroke-width="0.55" stroke-linejoin="round"/>
<path d="M403.7,162.9 L405.9,172.8 L413.6,184.9" fill="none" stroke="#17315f" stroke-width="0.55" stroke-linejoin="round"/>
<path d="M384.9,177.2 L392.6,175.0 L405.9,186.0 L413.6,184.9" fill="none" stroke="#17315f" stroke-width="0.55" stroke-linejoin="round"/>
<path d="M392.6,175.0 L400.4,168.4" fill="none" stroke="#17315f" stroke-width="0.55" stroke-linejoin="round"/>
<path d="M422.4,164.0 L430.1,159.6 L439.0,166.2 L441.2,175.0 L437.9,183.8 L443.4,188.2" fill="none" stroke="#17315f" stroke-width="0.55" stroke-linejoin="round"/>
<path d="M420.0,133.8 L428.8,126.2 L442.5,123.8 L482.5,140.0 L487.5,135.0 L502.5,135.0 L505.0,132.5 L530.0,137.5 L542.5,128.8 L550.0,128.0 L560.0,135.0 L570.0,140.0 L580.0,142.5 L583.8,135.0" fill="none" stroke="#17315f" stroke-width="0.55" stroke-linejoin="round"/>
<path d="M482.5,140.0 L507.5,154.5 L536.2,154.5 L540.0,147.5 L548.8,143.8 L542.5,137.5 L542.5,128.8" fill="none" stroke="#17315f" stroke-width="0.55" stroke-linejoin="round"/>
<path d="M420.0,148.8 L427.5,147.5 L432.5,151.2 L442.5,150.5 L446.2,156.2 L453.8,158.8 L461.2,153.8 L473.8,154.5 L475.0,147.5 L482.5,140.0" fill="none" stroke="#17315f" stroke-width="0.55" stroke-linejoin="round"/>
<path d="M473.8,154.5 L468.8,160.0 L461.2,162.5 L466.2,168.0" fill="none" stroke="#17315f" stroke-width="0.55" stroke-linejoin="round"/>
<path d="M446.2,156.2 L450.0,167.5 L438.8,170.0 L437.5,185.8" fill="none" stroke="#17315f" stroke-width="0.55" stroke-linejoin="round"/>
<path d="M425.0,152.5 L435.0,160.0 L450.0,167.5" fill="none" stroke="#17315f" stroke-width="0.55" stroke-linejoin="round"/>
<path d="M570.0,160.0 L580.0,142.5" fill="none" stroke="#17315f" stroke-width="0.55" stroke-linejoin="round"/>
<path d="M513.8,188.0 L525.0,185.0 L535.0,192.5 L538.8,201.2" fill="none" stroke="#17315f" stroke-width="0.55" stroke-linejoin="round"/>
<path d="M520.0,189.5 L525.0,192.5 L527.5,200.0 L530.0,208.8" fill="none" stroke="#17315f" stroke-width="0.5" stroke-linejoin="round"/>
<path d="M538.8,201.2 L543.8,210.0 L550.0,216.2" fill="none" stroke="#17315f" stroke-width="0.55" stroke-linejoin="round"/>
<path d="M535.0,213.8 L543.8,210.0" fill="none" stroke="#17315f" stroke-width="0.55" stroke-linejoin="round"/>
<path d="M405.0,227.5 L412.5,222.5 L425.0,217.5 L431.2,212.5" fill="none" stroke="#17315f" stroke-width="0.55" stroke-linejoin="round"/>
<path d="M425.0,217.5 L427.5,203.8 L435.0,198.8" fill="none" stroke="#17315f" stroke-width="0.55" stroke-linejoin="round"/>
<path d="M461.2,198.8 L462.5,187.5 L467.5,185.0 L471.2,177.5 L473.8,171.2" fill="none" stroke="#17315f" stroke-width="0.6" stroke-linejoin="round"/>
<path d="M480.0,183.8 L482.5,187.5 L500.0,193.8 L510.0,191.2" fill="none" stroke="#17315f" stroke-width="0.5" stroke-linejoin="round"/>
<path d="M501.2,192.5 L503.8,200.0 L510.0,201.2 L515.0,202.5" fill="none" stroke="#17315f" stroke-width="0.5" stroke-linejoin="round"/>
<!--MAPEND-->
</svg>
<svg id="ui" width="680" height="503" viewBox="0 0 680 503">
<path d="M87.40,388.20 A46.7,46.7 0 1 1 43.98,452.09" fill="none" stroke="#4a86d6" stroke-width="8"/>
<path d="M87.40,388.20 A46.7,46.7 0 0 0 43.98,452.09" fill="none" stroke="#f5640f" stroke-width="8"/>
<path d="M235.50,386.80 A47.2,47.2 0 0 1 279.56,450.91" fill="none" stroke="#f5640f" stroke-width="7.5"/>
<path d="M455.50,386.70 A47,47 0 1 1 412.08,451.69" fill="none" stroke="#4a86d6" stroke-width="7.5"/>
<line x1="332" y1="384.5" x2="311.5" y2="481" stroke="#333" stroke-width="3.6" stroke-linecap="round"/>
<line x1="359" y1="384.5" x2="379.3" y2="481" stroke="#333" stroke-width="3.6" stroke-linecap="round"/>
<line x1="345.8" y1="388" x2="345.8" y2="477" stroke="#333" stroke-width="3.4" stroke-linecap="round" stroke-dasharray="4.9 9.1"/>
<rect x="305" y="404" width="3.6" height="21.5" fill="#333"/>
<ellipse cx="306.7" cy="397.3" rx="8.7" ry="11.4" fill="#333"/>
<path d="M306.7,389.5 C310,393 312.5,397 312.5,400 C312.5,403.5 310,405.5 306.7,405.5 C303.4,405.5 301,403.5 301,400 C301,397 303.4,393 306.7,389.5Z" fill="#f5640f"/>
<rect x="385.3" y="430" width="3.7" height="25" fill="#333"/>
<ellipse cx="387.1" cy="423" rx="9.2" ry="12.5" fill="#2a2f3a"/>
<path d="M387.1,414 C391,418 393.3,422.5 393.3,426 C393.3,430 390.6,432 387.1,432 C383.6,432 381,430 381,426 C381,422.5 383.3,418 387.1,414Z" fill="#4a86d6"/>
<path d="M35.2,27.9 L35.2,37 L26.6,32.45Z" fill="none" stroke="#cf9257" stroke-width="1.3" stroke-linejoin="round"/>
<path d="M644.8,29.6 L644.8,38.2 L653.4,33.9Z" fill="none" stroke="#5f8296" stroke-width="1.3" stroke-linejoin="round"/>
<path d="M630.05,455.04 C633.81,447.52 642.58,446.27 650.10,447.77 C660.13,449.40 665.76,455.04 666.02,463.81 C666.39,473.83 662.63,482.61 651.35,484.11 C641.33,485.36 631.30,482.61 628.17,473.83 C626.29,467.57 627.54,460.05 630.05,455.04Z" fill="#f2571c"/>
<path d="M630.05,469.45 L630.68,465.06 L633.18,462.31 L638.82,460.05 L641.95,457.54 L646.34,454.79 L649.47,455.29 L652.61,458.80 L656.37,461.93 L658.25,463.31 L660.13,462.31 L662.01,461.05 L663.26,463.81 L664.14,466.94 L663.26,470.08 L659.50,472.08 L635.06,472.83 L630.68,471.33Z" fill="#fff" stroke="#fff" stroke-width="1" stroke-linejoin="round"/>
<path d="M632.56,472.83 L632.81,470.08 M636.94,472.83 L637.07,470.58 M640.33,472.83 L640.33,470.83 M647.34,472.83 L647.59,470.08 L650.35,467.82 L653.23,470.08" stroke="#f2571c" stroke-width="0.9" fill="none"/>
</svg>
<div class="num" style="left:47.5px;top:418px;width:80px;">69%</div>
<div class="lab" style="left:48px;top:452.7px;width:80px;">R</div>
<div class="num" style="left:207px;top:418px;width:60px;letter-spacing:5px;">75</div>
<div class="lab" style="left:205px;top:452.7px;width:60px;">L</div>
<div class="num" style="left:418px;top:418px;width:80px;letter-spacing:3.5px;">165</div>
<div class="lab" style="left:416px;top:452.7px;width:80px;">R</div>
</body></html>
